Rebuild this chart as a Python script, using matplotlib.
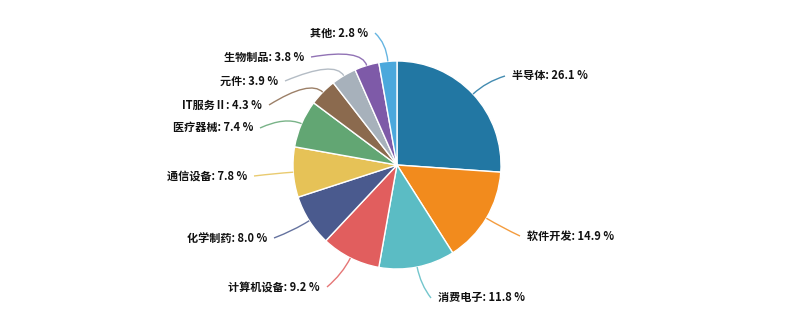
import numpy as np
import matplotlib
matplotlib.use("Agg")
import matplotlib.pyplot as plt
from matplotlib.path import Path
from matplotlib.patches import PathPatch

plt.rcParams['font.family'] = ['Noto Sans CJK SC', 'DejaVu Sans']

# Industry shares (%)
categories = ['半导体', '软件开发', '消费电子', '计算机设备', '化学制药', '通信设备',
              '医疗器械', 'IT服务Ⅱ', '元件', '生物制品', '其他']
shares = [26.1, 14.9, 11.8, 9.2, 8.0, 7.8, 7.4, 4.3, 3.9, 3.8, 2.8]
colors = ['#2277a3', '#f28b1d', '#5bbcc4', '#e15e5e', '#4a5a8e', '#e6c257',
          '#62a673', '#8b6a4e', '#a7b1bb', '#7e5aa8', '#4ba8dc']

# Label anchor points in pixel space (x = near edge of the text, y = text centre)
label_x = [512, 527, 438, 320, 267, 247, 253, 262, 278, 304, 368]
label_y = [76, 236, 298, 287, 238, 176, 128, 105, 81, 57, 33]

W, H = 796, 320
cx, cy, R = 397, 165, 104

fig = plt.figure(figsize=(W / 100, H / 100), dpi=100)
ax = fig.add_axes([0, 0, 1, 1])

# y axis is inverted, so counterclockwise in data space reads clockwise on screen
ax.pie(shares, colors=colors, center=(cx, cy), radius=R, startangle=-90,
       counterclock=True,
       wedgeprops=dict(edgecolor='white', linewidth=1.0))

ax.set_xlim(0, W)
ax.set_ylim(H, 0)
ax.set_aspect('equal')
ax.axis('off')

total = sum(shares)
cum = 0.0
for name, val, col, lx, ly in zip(categories, shares, colors, label_x, label_y):
    mid = (cum + val / 2) / total * 2 * np.pi
    cum += val
    sx, sy = np.sin(mid), -np.cos(mid)
    p0 = (cx + R * sx, cy + R * sy)
    p1 = (cx + (R + 18) * sx, cy + (R + 18) * sy)
    right = sx > 0
    gap = 7
    p2 = (lx - gap if right else lx + gap, ly)
    path = Path([p0, p1, p2], [Path.MOVETO, Path.CURVE3, Path.CURVE3])
    ax.add_patch(PathPatch(path, facecolor='none', edgecolor=col, lw=1.0, alpha=0.85))
    ax.text(lx, ly, f'{name}: {val:.1f} %', ha='left' if right else 'right',
            va='center', fontsize=8, fontweight='bold', color='#111111')

fig.savefig('out.png', dpi=100, facecolor='white')
